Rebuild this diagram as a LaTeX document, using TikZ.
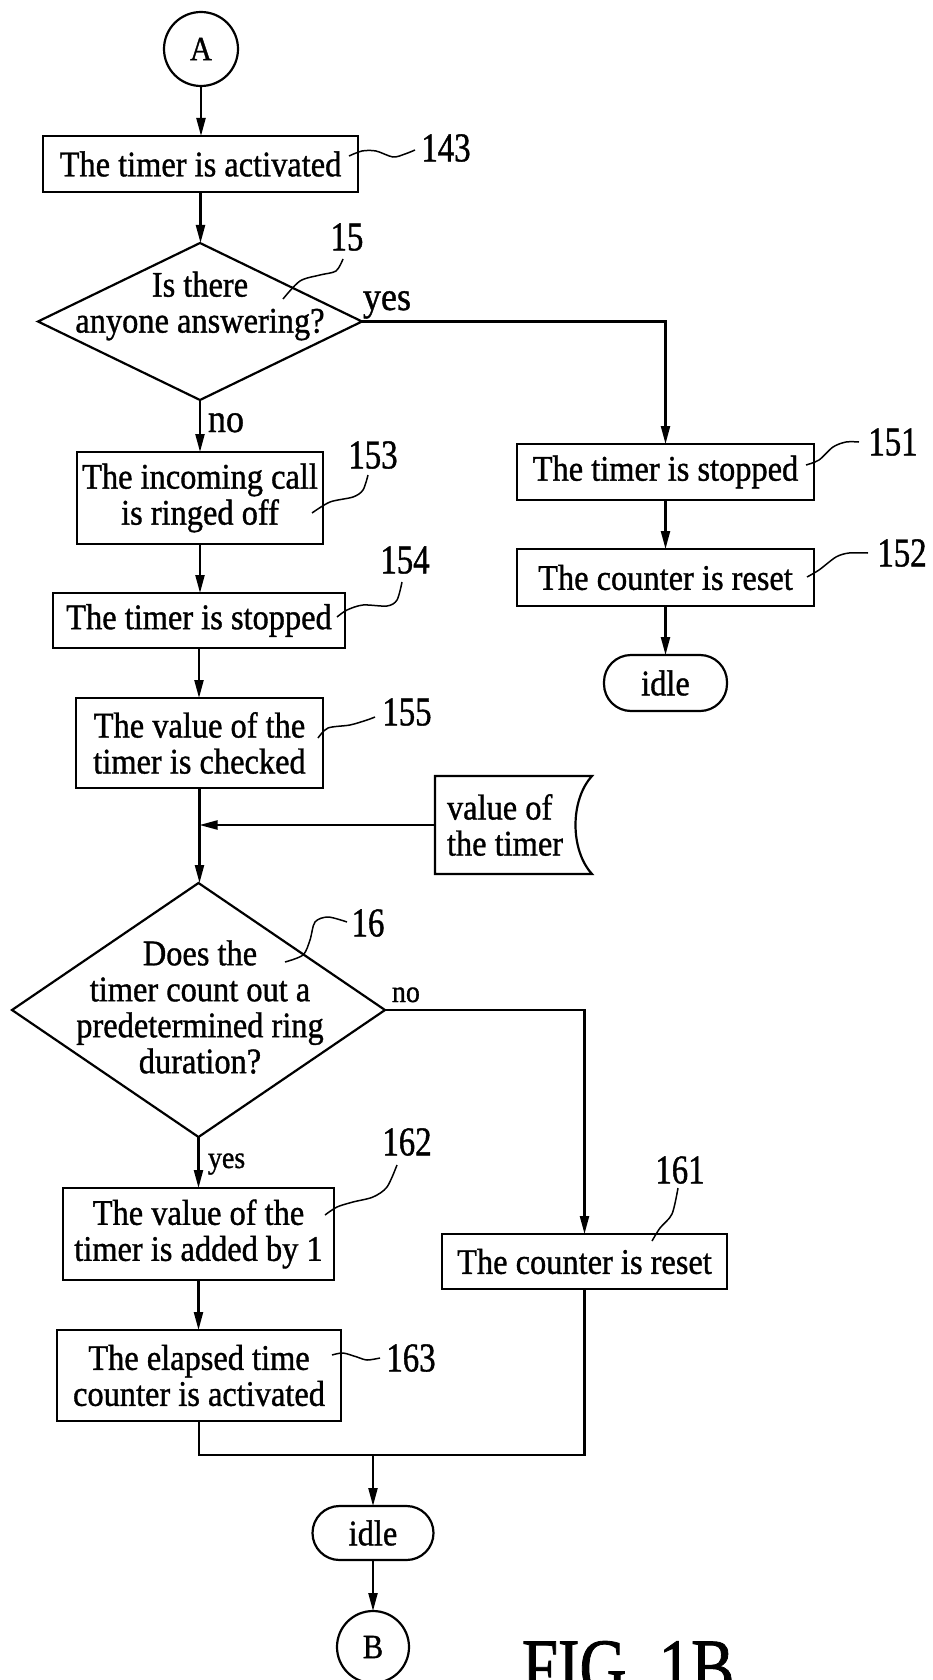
\documentclass[tikz,border=0pt]{standalone}
\usepackage{fontspec}
\setmainfont{Liberation Serif}[FakeStretch=0.9,FakeBold=1]
\newfontfamily\numfont{Liberation Serif}[FakeStretch=0.8,FakeBold=1]
\usetikzlibrary{shapes.geometric,arrows.meta}
\begin{document}
\begin{tikzpicture}[x=1pt,y=-1pt,
  every node/.style={inner sep=0pt, outer sep=0pt},
  lw/.style={line width=2.2pt},
  box/.style={draw, lw, rectangle, align=center, font=\fontsize{36}{36}\selectfont},
  term/.style={draw, lw, rectangle, rounded corners=27pt, font=\fontsize{36}{36}\selectfont},
  conn/.style={draw, lw, circle, font=\fontsize{34}{34}\selectfont},
  dec/.style={draw, lw, diamond},
  dtext/.style={align=center, font=\fontsize{36}{36}\selectfont},
  flow/.style={lw, -{Triangle[length=18pt,width=9pt]}},
  ref/.style={font=\numfont\fontsize{41}{41}\selectfont},
  lead/.style={line width=1.5pt},
  yn/.style={anchor=base west, font=\fontsize{40}{40}\selectfont},
  yns/.style={anchor=base west, font=\fontsize{31}{31}\selectfont},
]
\fill[white] (0,0) rectangle (932,1680);
\useasboundingbox (0,0) rectangle (932,1680);

% main column
\node[conn, minimum size=74pt] (A) at (201,49) {A};
\node[box, minimum width=315pt, minimum height=56pt] (b143) at (200.5,164) {The timer is activated};
\node[dec, minimum width=324pt, minimum height=157pt] (d15) at (200,321.5) {};
\node[dtext] (t15) at (200,306) {Is there\\anyone answering?};
\node[box, minimum width=246pt, minimum height=92pt] (b153) at (200,498) {The incoming call\\is ringed off};
\node[box, minimum width=292pt, minimum height=55pt] (b154) at (199,620.5) {The timer is stopped};
\node[box, minimum width=247pt, minimum height=90pt] (b155) at (199.5,743) {The value of the\\timer is checked};

% data input
\node[minimum width=157pt, minimum height=98pt] (val) at (513.5,825) {};
\draw[lw] (val.north west) -- (val.north east) .. controls +(-22,24) and +(-22,-24) .. (val.south east) -- (val.south west) -- cycle;
\node[anchor=west, align=left, font=\fontsize{36}{36}\selectfont] (valtxt) at (447,825) {value of\\the timer};
\coordinate (j1) at (b155.south |- val.west);

\node[dec, minimum width=373pt, minimum height=254pt] (d16) at (198.5,1010) {};
\node[dtext] (t16) at (200,1007) {Does the\\timer count out a\\predetermined ring\\duration?};
\node[box, minimum width=271pt, minimum height=92pt] (b162) at (198.5,1234) {The value of the\\timer is added by 1};
\node[box, minimum width=284pt, minimum height=91pt] (b163) at (199,1375.5) {The elapsed time\\counter is activated};
\node[box, minimum width=285pt, minimum height=55pt] (b161) at (584.5,1261.5) {The counter is reset};
\coordinate (j2) at (373,1455);
\node[term, minimum width=121pt, minimum height=54pt] (idle2) at (373,1533) {idle};
\node[conn, minimum size=72pt] (B) at (373,1647) {B};

% right column
\node[box, minimum width=297pt, minimum height=56pt] (b151) at (665.5,472) {The timer is stopped};
\node[box, minimum width=297pt, minimum height=57pt] (b152) at (665.5,577.5) {The counter is reset};
\node[term, minimum width=123pt, minimum height=56pt] (idle1) at (665.5,683) {idle};

% connectors
\draw[flow] (A.south) -- (A.south |- b143.north);
\draw[flow] (b143.south) -- (b143.south |- d15.north);
\draw[flow] (d15.south) -- (d15.south |- b153.north);
\draw[flow] (d15.east) -| (b151.north);
\draw[flow] (b151.south) -- (b152.north);
\draw[flow] (b152.south) -- (idle1.north);
\draw[flow] (b153.south) -- (b153.south |- b154.north);
\draw[flow] (b154.south) -- (b154.south |- b155.north);
\draw[flow] (b155.south) -- (b155.south |- d16.north);
\draw[flow] (val.west) -- (j1);
\draw[flow] (d16.south) -- (d16.south |- b162.north);
\draw[flow] (d16.east) -| (b161.north);
\draw[flow] (b162.south) -- (b162.south |- b163.north);
\draw[lw] (b163.south) |- (j2) -| (b161.south);
\draw[flow] (j2) -- (idle2.north);
\draw[flow] (idle2.south) -- (B.north);

% yes / no
\node[yn] (yes1) at (363,310) {yes};
\node[yn] (no1) at (208,432) {no};
\node[yns] (yes2) at (208,1168) {yes};
\node[yns] (no2) at (392,1002) {no};

% reference numerals
\node[ref] (r143) at (446,148) {143};
\node[ref] (r15) at (347,237) {15};
\node[ref] (r153) at (373,455) {153};
\node[ref] (r154) at (405,560) {154};
\node[ref] (r155) at (407,712) {155};
\node[ref] (r151) at (893,442) {151};
\node[ref] (r152) at (902,553) {152};
\node[ref] (r16) at (368,923) {16};
\node[ref] (r162) at (407,1142) {162};
\node[ref] (r161) at (680,1170) {161};
\node[ref] (r163) at (411,1358) {163};

% leaders
\draw[lead] plot[smooth] coordinates {(349,156) (362,151) (376,151) (393,157) (405,154) (415,150)};
\draw[lead] plot[smooth] coordinates {(283,299) (300,281) (320,275) (336,271) (343,259)};
\draw[lead] plot[smooth] coordinates {(312,513) (330,502) (353,497) (363,490) (368,475)};
\draw[lead] plot[smooth] coordinates {(337,617) (347,610) (363,605) (387,606) (397,600) (402,582)};
\draw[lead] plot[smooth] coordinates {(318,738) (328,728) (350,725) (367,720) (375,717)};
\draw[lead] plot[smooth] coordinates {(806,465) (819,460) (833,447) (846,442) (859,442)};
\draw[lead] plot[smooth] coordinates {(807,577) (819,570) (836,557) (849,553) (868,553)};
\draw[lead] plot[smooth] coordinates {(285,962) (303,955) (310,940) (315,922) (328,917) (347,922)};
\draw[lead] plot[smooth] coordinates {(325,1215) (337,1207) (353,1202) (373,1197) (387,1187) (397,1165)};
\draw[lead] plot[smooth] coordinates {(652,1241) (660,1228) (672,1214) (678,1188)};
\draw[lead] plot[smooth] coordinates {(332,1355) (343,1353) (357,1357) (367,1360) (380,1358)};

\node[anchor=north west, font=\numfont\fontsize{81}{81}\selectfont] (fig) at (522,1641) {FIG. 1B};
\end{tikzpicture}
\end{document}
